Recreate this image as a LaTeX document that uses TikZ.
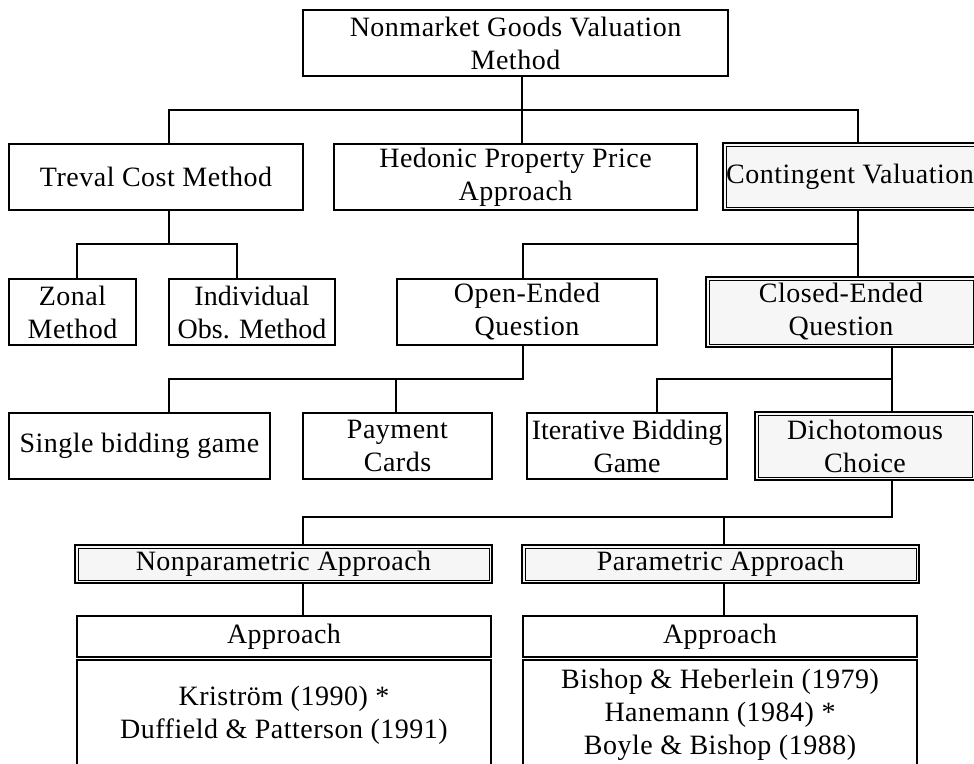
\documentclass[tikz,border=0pt]{standalone}
\usepackage{fontspec}
\setmainfont[LetterSpace=1.8]{Liberation Serif}
\begin{document}
\begin{tikzpicture}[x=1pt,y=-1pt,
  txt/.style={font=\fontsize{28}{33}\selectfont, align=center, inner sep=0pt, outer sep=0pt},
  tight/.style={font=\fontsize{28}{33}\selectfont\addfontfeature{LetterSpace=0}},
  box/.style 2 args={txt, draw, line width=1.1pt, minimum width=#1, minimum height=#2},
  hbox/.style 2 args={txt, draw, line width=1.2pt, fill=gray!7, minimum width=#1, minimum height=#2},
  inner/.style={line width=0.6pt},
  conn/.style={line width=1.1pt}]
\useasboundingbox (0,0) rectangle (974,763);
\clip (0,0) rectangle (974,763);
% level 0
\node[box={425pt}{66pt}] (top) at (515.5,43) {Nonmarket Goods Valuation\\Method};
% level 1
\node[box={294pt}{66pt}] (trev) at (156,177) {Treval Cost Method};
\node[box={363pt}{66pt}] (hed) at (515.5,177) {Hedonic Property Price\\Approach};
\node[hbox={254pt}{67pt}] (cont) at (850,176.5) {Contingent Valuation};
% level 2
\node[box={127pt}{66pt}] (zonal) at (72.5,312) {Zonal\\Method};
\node[box={166pt}{66pt}, tight] (indiv) at (252,312) {Individual\\Obs. Method};
\node[box={260pt}{66pt}] (open) at (527,312) {Open-Ended\\Question};
\node[hbox={270pt}{70pt}] (closed) at (841,312) {Closed-Ended\\Question};
% level 3
\node[box={261pt}{66pt}] (single) at (139.5,446) {Single bidding game};
\node[box={189pt}{66pt}] (pay) at (397.5,446) {Payment\\Cards};
\node[box={200pt}{66pt}, tight] (iter) at (627,446) {Iterative Bidding\\Game};
\node[hbox={220pt}{68pt}] (dich) at (865,446) {Dichotomous\\Choice};
% level 4
\node[hbox={417pt}{38pt}] (nonp) at (283.5,564) {Nonparametric Approach};
\node[hbox={397pt}{38pt}] (par) at (720.5,564) {Parametric Approach};
% inner lines of the highlighted boxes
\foreach \n in {cont,closed,dich,nonp,par}
  \draw[inner] ([shift={(3,3)}]\n.north west) rectangle ([shift={(-3,-3)}]\n.south east);
% tables
\node[box={414pt}{41pt}] (nh) at (284,636.5) {Approach};
\node[box={414pt}{110pt}] (nb) at (284,715) {Kriström (1990) *\\Duffield \& Patterson (1991)};
\node[box={394pt}{41pt}] (ph) at (720,636.5) {Approach};
\node[box={394pt}{110pt}] (pb) at (720,715) {Bishop \& Heberlein (1979)\\Hanemann (1984) *\\Boyle \& Bishop (1988)};
% connectors
\draw[conn] (522,0 |- top.south) -- (522,0 |- hed.north);
\draw[conn] (169,0 |- trev.north) -- (169,110) -- (858,110) -- (858,0 |- cont.north);
\draw[conn] (169,0 |- trev.south) -- (169,244);
\draw[conn] (77,0 |- zonal.north) -- (77,244) -- (237,244) -- (237,0 |- indiv.north);
\draw[conn] (523,0 |- open.north) -- (523,244) -- (858,244);
\draw[conn] (858,0 |- cont.south) -- (858,0 |- closed.north);
\draw[conn] (523,0 |- open.south) -- (523,379) -- (169,379) -- (169,0 |- single.north);
\draw[conn] (396,379) -- (396,0 |- pay.north);
\draw[conn] (892,0 |- closed.south) -- (892,0 |- dich.north);
\draw[conn] (657,0 |- iter.north) -- (657,379) -- (892,379);
\draw[conn] (892,0 |- dich.south) -- (892,517) -- (303,517) -- (303,0 |- nonp.north);
\draw[conn] (724,517) -- (724,0 |- par.north);
\draw[conn] (303,0 |- nonp.south) -- (303,0 |- nh.north);
\draw[conn] (724,0 |- par.south) -- (724,0 |- ph.north);
\end{tikzpicture}
\end{document}
